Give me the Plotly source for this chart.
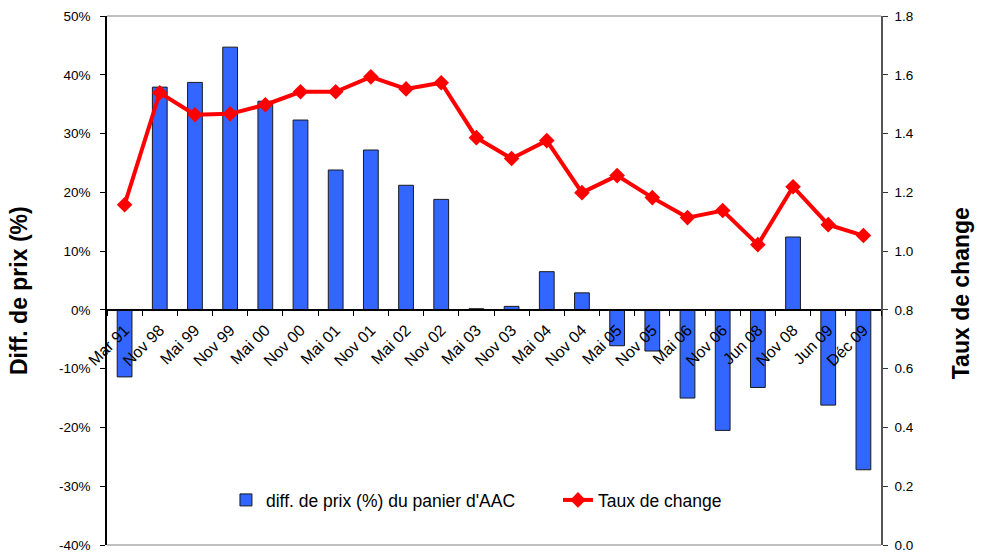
import plotly.graph_objects as go

categories = ["Mar 91", "Nov 98", "Mai 99", "Nov 99", "Mai 00", "Nov 00", "Mai 01",
              "Nov 01", "Mai 02", "Nov 02", "Mai 03", "Nov 03", "Mai 04", "Nov 04",
              "Mai 05", "Nov 05", "Mai 06", "Nov 06", "Jun 08", "Nov 08", "Jun 09", "Déc 09"]

price_diff = [-11.4, 37.9, 38.7, 44.7, 35.5, 32.3, 23.8, 27.2, 21.2, 18.8, 0.2, 0.6,
              6.5, 2.9, -6.1, -7.0, -15.0, -20.5, -13.2, 12.4, -16.2, -27.2]

exchange_rate = [1.158, 1.539, 1.464, 1.467, 1.498, 1.542, 1.542, 1.593, 1.552, 1.573,
                 1.386, 1.315, 1.376, 1.199, 1.257, 1.182, 1.114, 1.138, 1.022, 1.219,
                 1.090, 1.053]

left_tick_values = [-40, -30, -20, -10, 0, 10, 20, 30, 40, 50]
left_tick_labels = ["-40%", "-30%", "-20%", "-10%", "0%", "10%", "20%", "30%", "40%", "50%"]
right_tick_values = [0.0, 0.2, 0.4, 0.6, 0.8, 1.0, 1.2, 1.4, 1.6, 1.8]
right_tick_labels = ["0.0", "0.2", "0.4", "0.6", "0.8", "1.0", "1.2", "1.4", "1.6", "1.8"]

fig = go.Figure()
fig.add_trace(go.Bar(
    x=categories, y=price_diff, name="diff. de prix (%) du panier d'AAC",
    marker=dict(color="#3366FF", line=dict(color="#1a1a1a", width=1)),
    yaxis="y",
))
fig.add_trace(go.Scatter(
    x=categories, y=exchange_rate, name="Taux de change", mode="lines+markers",
    line=dict(color="#FF0000", width=4),
    marker=dict(symbol="diamond", size=12, color="#FF0000"),
    yaxis="y2",
))

font_family = "Liberation Sans, Arial, sans-serif"

fig.update_layout(
    width=981, height=554,
    margin=dict(l=107, r=100, t=16, b=9, autoexpand=False),
    paper_bgcolor="white", plot_bgcolor="white",
    font=dict(family=font_family, color="black", size=14),
    bargap=0.58,
    showlegend=True,
    legend=dict(orientation="h", x=0.1537, y=0.085, xanchor="left", yanchor="middle",
                font=dict(size=17.5), bgcolor="rgba(0,0,0,0)", itemwidth=30,
                entrywidthmode="pixels", entrywidth=287),
    xaxis=dict(
        type="category", anchor="free", position=40 / 90, range=[-0.5, 21.5],
        showline=True, linecolor="black", linewidth=1.5,
        ticks="outside", ticklen=5, tickcolor="black", tickson="boundaries",
        tickangle=-45, tickfont=dict(size=16), ticklabelstandoff=4,
        showgrid=False, zeroline=False, automargin=False,
    ),
    yaxis=dict(
        range=[-40, 50], tickvals=left_tick_values, ticktext=left_tick_labels,
        showline=True, linecolor="black", linewidth=1.5,
        ticks="outside", ticklen=5, tickcolor="black", ticklabelstandoff=7,
        tickfont=dict(size=13.5), ticklabeloverflow="allow",
        showgrid=False, zeroline=False, automargin=False,
    ),
    yaxis2=dict(
        range=[0, 1.8], tickvals=right_tick_values, ticktext=right_tick_labels,
        overlaying="y", side="right",
        showline=True, linecolor="#555555", linewidth=1.5,
        ticks="outside", ticklen=5, tickcolor="#333333", ticklabelstandoff=4,
        tickfont=dict(size=13.5), ticklabeloverflow="allow",
        showgrid=False, zeroline=False, automargin=False,
    ),
    annotations=[
        dict(text="<b>Diff. de prix (%)</b>", xref="paper", yref="paper",
             x=-0.1137, y=0.482, xanchor="center", yanchor="middle", textangle=-90,
             showarrow=False, font=dict(size=23)),
        dict(text="<b>Taux de change</b>", xref="paper", yref="paper",
             x=1.1034, y=0.476, xanchor="center", yanchor="middle", textangle=-90,
             showarrow=False, font=dict(size=23)),
    ],
    shapes=[
        dict(type="line", xref="paper", yref="paper", x0=0, x1=1, y0=1, y1=1,
             line=dict(color="#AAAAAA", width=1.5)),
        dict(type="line", xref="paper", yref="paper", x0=0, x1=1, y0=0, y1=0,
             line=dict(color="#AAAAAA", width=1.5)),
    ],
)

# Remove the browser's default 8px body margin so the figure sits at the page origin.
fig.write_html("out.html", config={"displayModeBar": False},
               post_script="document.body.style.margin='0';")
